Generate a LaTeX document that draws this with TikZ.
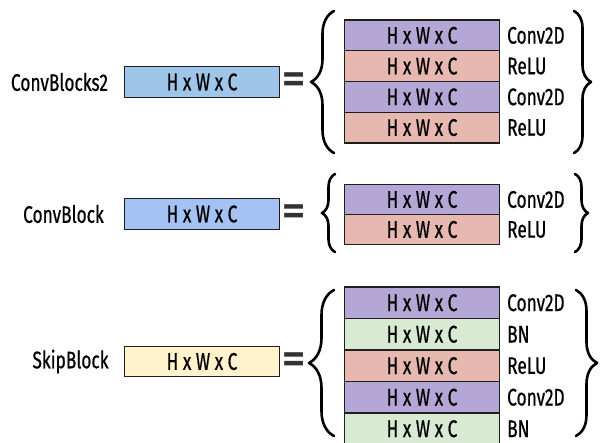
\documentclass[tikz,border=0pt]{standalone}
\usepackage{fontspec}
\setmainfont{Fira Sans}[FakeStretch=0.72, FakeBold=0.6]
\newfontfamily\eqfont{DejaVu Sans Bold}
\usetikzlibrary{decorations.pathreplacing}
\definecolor{bluea}{HTML}{9FC5E8}
\definecolor{blueb}{HTML}{A4C2F4}
\definecolor{purp}{HTML}{B4A7D6}
\definecolor{salm}{HTML}{E6B8AF}
\definecolor{grn}{HTML}{D9EAD3}
\definecolor{yel}{HTML}{FFF2CC}
\definecolor{edge}{HTML}{1E1E1E}
\tikzset{
  txt/.style={font=\fontsize{24}{28}\selectfont, text=black, inner sep=0pt},
  lay/.style={txt, draw=edge, line width=1.3pt, minimum width=155pt, minimum height=30.5pt},
  lbl/.style={txt, anchor=west},
  eqs/.style={font=\eqfont\fontsize{30}{30}\selectfont, text=black!80, inner sep=0pt},
  brc/.style={decorate, line width=2.6pt, line cap=round, line join=round},
}
\begin{document}
\begin{tikzpicture}[x=1pt,y=-1pt]
\useasboundingbox[fill=white] (0,0) rectangle (600,443);

% ---- ConvBlocks2
\node[txt] (n1) at (59.5,82) {ConvBlocks2};
\node[lay, fill=bluea] (b1) at (202,82) {H x W x C};
\node[eqs] (e1) at (294.5,82) {\scalebox{1}[1.3]{=}};
\draw[brc, decoration={brace, amplitude=23pt}] (334,153) -- (334,11);
\node[lay, fill=purp, minimum height=30.75pt] (r11) at (422,35.4) {H x W x C};
\node[lay, fill=salm, minimum height=30.75pt] (r12) at (422,66.1) {H x W x C};
\node[lay, fill=purp, minimum height=30.75pt] (r13) at (422,96.9) {H x W x C};
\node[lay, fill=salm, minimum height=30.75pt] (r14) at (422,127.6) {H x W x C};
\node[lbl] (l11) at (507,35.4) {Conv2D};
\node[lbl] (l12) at (507,66.1) {ReLU};
\node[lbl] (l13) at (507,96.9) {Conv2D};
\node[lbl] (l14) at (507,127.6) {ReLU};
\draw[brc, decoration={brace, amplitude=17pt}] (574,11) -- (574,153);

% ---- ConvBlock
\node[txt] (n2) at (63.5,214) {ConvBlock};
\node[lay, fill=blueb] (b2) at (202,214) {H x W x C};
\node[eqs] (e2) at (294.5,214) {\scalebox{1}[1.3]{=}};
\draw[brc, decoration={brace, amplitude=13pt}] (335,252) -- (335,174);
\node[lay, fill=purp, minimum height=30pt] (r21) at (422,199.5) {H x W x C};
\node[lay, fill=salm, minimum height=30pt] (r22) at (422,229.5) {H x W x C};
\node[lbl] (l21) at (507,199.5) {Conv2D};
\node[lbl] (l22) at (507,229.5) {ReLU};
\draw[brc, decoration={brace, amplitude=13pt}] (575,174) -- (575,252);

% ---- SkipBlock
\node[txt] (n3) at (70.5,361.5) {SkipBlock};
\node[lay, fill=yel] (b3) at (202,361.5) {H x W x C};
\node[eqs] (e3) at (294.5,362) {\scalebox{1}[1.3]{=}};
\draw[brc, decoration={brace, amplitude=25pt}] (334,436) -- (334,290);
\node[lay, fill=purp, minimum height=31.5pt] (r31) at (422,302.75) {H x W x C};
\node[lay, fill=grn, minimum height=31.5pt] (r32) at (422,334.25) {H x W x C};
\node[lay, fill=salm, minimum height=31.5pt] (r33) at (422,365.75) {H x W x C};
\node[lay, fill=purp, minimum height=31.5pt] (r34) at (422,397.25) {H x W x C};
\node[lay, fill=grn, minimum height=31.5pt] (r35) at (422,428.75) {H x W x C};
\node[lbl] (l31) at (507,302.75) {Conv2D};
\node[lbl] (l32) at (507,334.25) {BN};
\node[lbl] (l33) at (507,365.75) {ReLU};
\node[lbl] (l34) at (507,397.25) {Conv2D};
\node[lbl] (l35) at (507,428.75) {BN};
\draw[brc, decoration={brace, amplitude=21pt}] (576,290) -- (576,436);
\end{tikzpicture}
\end{document}
